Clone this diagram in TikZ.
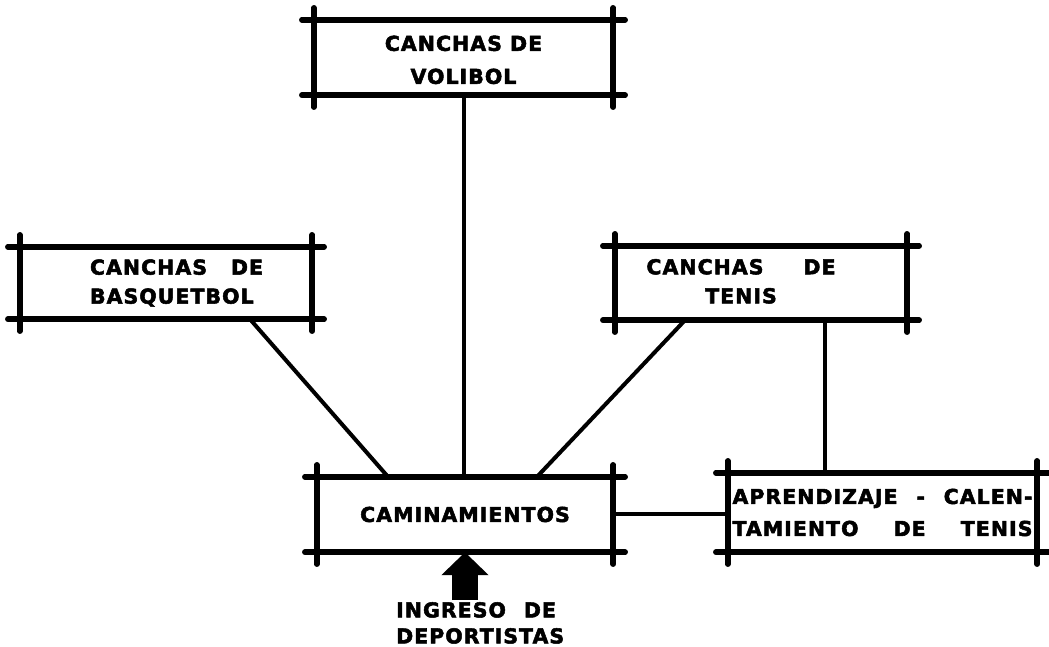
\documentclass[tikz,border=0pt]{standalone}
\usepackage{fontspec}
\newfontfamily\rotulo{DejaVu Sans}[LetterSpace=5,FakeBold=2.5]
\usetikzlibrary{arrows.meta,positioning}

\begin{document}
\begin{tikzpicture}[x=1pt,y=1pt,
          sala/.style={
            inner sep=0pt,
            align=center,
            font=\rotulo\bfseries\fontsize{20.5}{29}\selectfont
          },
          muro/.style={line width=5.5pt,line cap=round},
          enlace/.style={line width=4pt},
          entrada/.style={line width=26pt,-{Triangle[width=46pt,length=23pt]}}
        ]
        \useasboundingbox (0,0) rectangle (1049,647);
        \node[sala,minimum width=299pt,minimum height=75pt] (vol) at (463.5,589.5) {\rule{0pt}{20pt}CANCHAS DE\\[4pt]VOLIBOL};
        \node[sala,minimum width=292pt,minimum height=72pt,text width=230pt,align=left] (bas) at (166,364)
          {\hspace*{39pt}CANCHAS\hspace{24pt}DE\\\hspace*{39pt}BASQUETBOL};
        \node[sala,minimum width=292pt,minimum height=74pt] (ten) at (761,364)
          {\hspace*{-40pt}\begin{tabular}{@{}c@{}}CANCHAS\hspace{40pt}DE\\TENIS\end{tabular}};
        \node[sala,minimum width=296pt,minimum height=75pt] (cam) at (465,132.5) {CAMINAMIENTOS};
        \node[sala,minimum width=309pt,minimum height=79pt] (apr) at (882.5,134.5)
          {\makebox[300pt][s]{APRENDIZAJE\hfill-\hfill CALEN-}\\[3pt]\makebox[300pt][s]{TAMIENTO\hfill DE\hfill TENIS}};
        % muros con esquinas prolongadas
        \foreach \n in {vol,bas,ten,cam,apr} {
          \draw[muro] ([xshift=-12pt]\n.north west) -- ([xshift=12pt]\n.north east);
          \draw[muro] ([xshift=-12pt]\n.south west) -- ([xshift=12pt]\n.south east);
          \draw[muro] ([yshift=12pt]\n.north west) -- ([yshift=-12pt]\n.south west);
          \draw[muro] ([yshift=12pt]\n.north east) -- ([yshift=-12pt]\n.south east);
        }
        \draw[enlace] (vol.south) -- (vol.south |- cam.north);
        \draw[enlace] ([xshift=84pt]bas.south) -- ([xshift=-77pt]cam.north);
        \draw[enlace] ([xshift=-76pt]ten.south) -- ([xshift=72pt]cam.north);
        \draw[enlace] ([xshift=64pt]ten.south) -- ([xshift=64pt]ten.south |- apr.north);
        \draw[enlace] (cam.east) -- (cam.east -| apr.west);
        % ingreso
        \coordinate (ingreso) at ([yshift=-48pt]cam.south);
        \draw[entrada] (ingreso) -- (cam.south);
        \node[sala,align=left,anchor=north west,font=\rotulo\bfseries\fontsize{20.5}{26}\selectfont] (ingtxt) at (396,45) {INGRESO\hspace{18pt}DE\\DEPORTISTAS};
      \end{tikzpicture}
\end{document}
